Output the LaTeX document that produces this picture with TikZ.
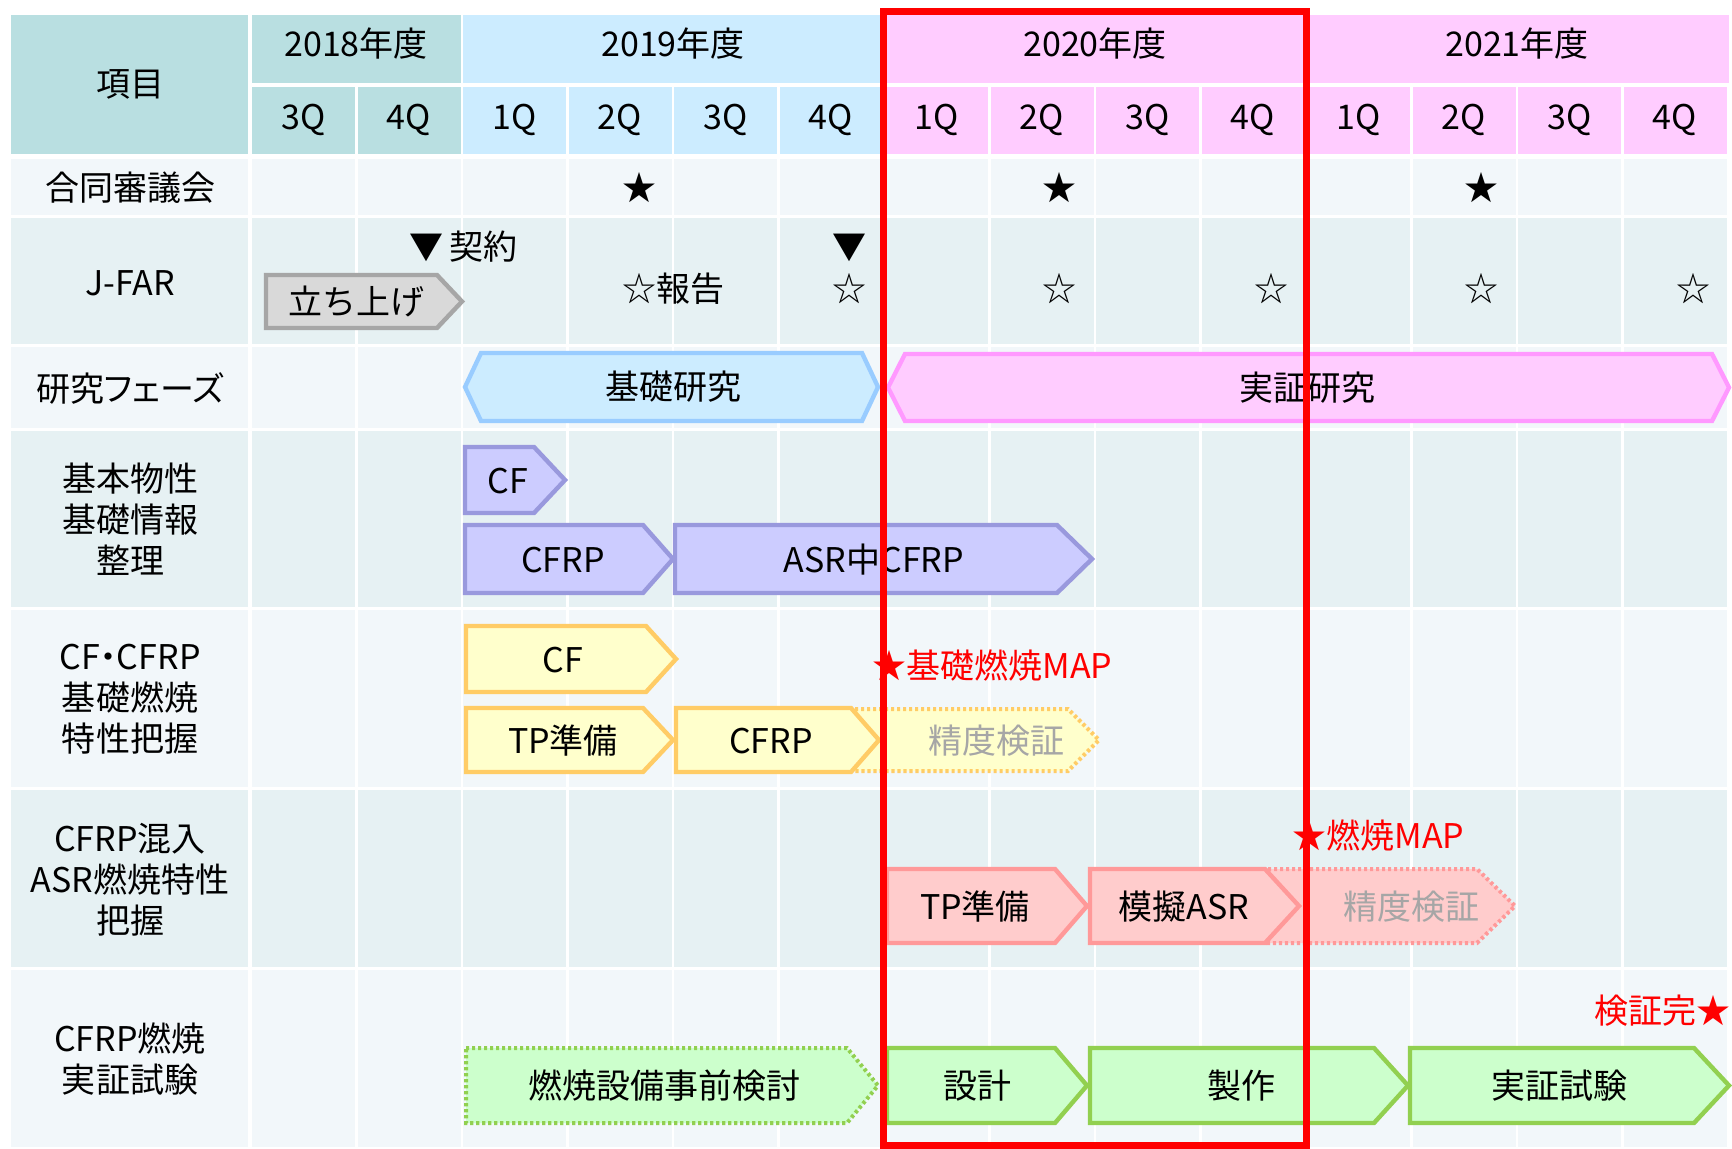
\documentclass[tikz,border=0pt]{standalone}
\usepackage{fontspec}
\setmainfont{Noto Sans CJK JP}
\newfontfamily\jpprop[RawFeature=+palt]{Noto Sans CJK JP}
\definecolor{hdrteal}{RGB}{185,223,225}
\definecolor{hdrblue}{RGB}{204,236,255}
\definecolor{hdrpink}{RGB}{255,204,255}
\definecolor{rowlight}{RGB}{242,247,250}
\definecolor{rowdark}{RGB}{230,241,243}
\definecolor{purfill}{RGB}{204,204,255}
\definecolor{purline}{RGB}{153,153,221}
\definecolor{yelfill}{RGB}{255,255,204}
\definecolor{yelline}{RGB}{255,204,102}
\definecolor{redfill}{RGB}{255,204,204}
\definecolor{redline}{RGB}{255,153,153}
\definecolor{grnfill}{RGB}{204,255,204}
\definecolor{grnline}{RGB}{146,208,80}
\definecolor{bluline}{RGB}{153,204,255}
\definecolor{pinkline}{RGB}{255,153,255}
\definecolor{grayfill}{RGB}{217,217,217}
\definecolor{grayline}{RGB}{166,166,166}
\definecolor{txtgray}{RGB}{166,166,166}
\definecolor{boxred}{RGB}{255,0,0}
\tikzset{
  lbl/.style={font=\fontsize{17}{20.5}\selectfont, inner sep=0pt, text height=15pt, text depth=2pt, anchor=center},
  mlbl/.style={font=\fontsize{17}{20.5}\selectfont, inner sep=0pt, align=center, anchor=center},
  barpur/.style={fill=purfill, draw=purline, line width=2.2pt},
  baryel/.style={fill=yelfill, draw=yelline, line width=2.2pt},
  barred/.style={fill=redfill, draw=redline, line width=2.2pt},
  bargrn/.style={fill=grnfill, draw=grnline, line width=2.2pt},
  bargray/.style={fill=grayfill, draw=grayline, line width=2.2pt},
  dotyel/.style={fill=yelfill, draw=yelline, line width=2pt, dash pattern=on 1.6pt off 1.4pt},
  dotred/.style={fill=redfill, draw=redline, line width=2pt, dash pattern=on 1.6pt off 1.4pt},
  dotgrn/.style={fill=grnfill, draw=grnline, line width=2pt, dash pattern=on 1.6pt off 1.4pt},
  hexblue/.style={fill=hdrblue, draw=bluline, line width=2.2pt},
  hexpink/.style={fill=hdrpink, draw=pinkline, line width=2.2pt},
  redbox/.style={draw=boxred, line width=3.5pt},
}
% style, name, x1, x2, y1, y2, tip, text x, text
\newcommand\chev[9]{%
  \draw[#1] (#3,#5) -- ({#4-#7},#5) -- (#4,{(#5+#6)/2}) -- ({#4-#7},#6) -- (#3,#6) -- cycle;
  \node[lbl] (#2) at (#8,{(#5+#6)/2}) {#9};
}
\newcommand\hexa[9]{%
  \draw[#1] (#3,{(#5+#6)/2}) -- ({#3+#7},#5) -- ({#4-#7},#5) -- (#4,{(#5+#6)/2}) -- ({#4-#7},#6) -- ({#3+#7},#6) -- cycle;
  \node[lbl] (#2) at (#8,{(#5+#6)/2}) {#9};
}
\begin{document}
\begin{tikzpicture}[x=0.5pt,y=-0.5pt]
\useasboundingbox[fill=white] (0,0) rectangle (1732,1149);
% header
\fill[hdrteal] (11,15) rectangle (248,154);
\fill[hdrteal] (252,15) rectangle (460.5,83);
\fill[hdrblue] (463,15) rectangle (882,83);
\fill[hdrpink] (885,15) rectangle (1304.5,83);
\fill[hdrpink] (1307,15) rectangle (1729,83);
\foreach \k/\c in {0/hdrteal,1/hdrteal,2/hdrblue,3/hdrblue,4/hdrblue,5/hdrblue,6/hdrpink,7/hdrpink,8/hdrpink,9/hdrpink,10/hdrpink,11/hdrpink,12/hdrpink,13/hdrpink}
  \fill[\c] ({252+105.5*\k},87) rectangle ({252+105.5*\k+103},154);
% body rows
\foreach \ya/\yb/\c in {159/215/rowlight,218/344/rowdark,347/428/rowlight,431/607/rowdark,610/787/rowlight,790/967/rowdark,970/1147/rowlight}{
  \fill[\c] (11,\ya) rectangle (248,\yb);
  \foreach \k in {0,...,13}
    \fill[\c] ({252+105.5*\k},\ya) rectangle ({252+105.5*\k+103},\yb);
}
% header texts
\node[lbl] (item) at (130,84) {項目};
\node[lbl] (y2018) at (356,44) {2018年度};
\node[lbl] (y2019) at (673,44) {2019年度};
\node[lbl] (y2020) at (1095,44) {2020年度};
\node[lbl] (y2021) at (1517,44) {2021年度};
\foreach \k/\q in {0/3Q,1/4Q,2/1Q,3/2Q,4/3Q,5/4Q,6/1Q,7/2Q,8/3Q,9/4Q,10/1Q,11/2Q,12/3Q,13/4Q}
  \node[lbl] (q\k) at ({252+105.5*\k+51.5},117) {\q};
% row labels
\node[mlbl] (r1) at (130,188) {合同審議会};
\node[mlbl] (r2) at (130,283) {J-FAR};
\node[mlbl] (r3) at (130,388) {\jpprop 研究フェーズ};
\node[mlbl] (r4) at (130,519) {基本物性\\基礎情報\\整理};
\node[mlbl] (r5) at (130,699) {\jpprop CF・CFRP\\基礎燃焼\\特性把握};
\node[mlbl] (r6) at (130,880) {CFRP混入\\ASR燃焼特性\\把握};
\node[mlbl] (r7) at (130,1059) {CFRP燃焼\\実証試験};
% meetings
\node[lbl] (m1) at (639,188) {★};
\node[lbl] (m2) at (1059,188) {★};
\node[lbl] (m3) at (1481,188) {★};
% J-FAR
\chev{bargray}{setup}{266}{462}{275}{328}{25}{356}{立ち上げ}
\node[lbl, anchor=east] (contract) at (518,247) {▼\hspace{3pt}契約};
\node[lbl, anchor=east] (rep1) at (725,289) {☆報告};
\node[lbl] (tri2) at (849.5,247) {▼};
\node[lbl] (rep2) at (849.5,289) {☆};
\node[lbl] (rep3) at (1059,289) {☆};
\node[lbl] (rep4) at (1271,289) {☆};
\node[lbl] (rep5) at (1481,289) {☆};
\node[lbl] (rep6) at (1693,289) {☆};
% phases
\hexa{hexblue}{basic}{465}{878}{353}{421}{16}{673}{基礎研究}
\hexa{hexpink}{demoph}{888}{1729}{354}{421}{17}{1307}{実証研究}
% basic properties
\chev{barpur}{cf1}{465}{565}{447}{513}{31}{508}{CF}
\chev{barpur}{asr}{675}{1092}{525}{593}{35}{874}{ASR中CFRP}
\chev{barpur}{cfrp1}{465}{673}{525}{593}{30}{563}{CFRP}
% CF/CFRP combustion
\chev{baryel}{cf2}{466}{676}{626}{692}{30}{563}{CF}
\chev{dotyel}{acc1}{855}{1099}{709}{771}{31}{996}{\color{txtgray}精度検証}
\chev{baryel}{tp1}{466}{673}{708}{772}{30}{563}{TP準備}
\chev{baryel}{cfrp2}{676}{879}{708}{772}{28}{771}{CFRP}
\node[lbl, text=boxred, anchor=west] (map1) at (872,665) {★基礎燃焼MAP};
% ASR
\chev{dotred}{acc2}{1268}{1515}{869}{943}{38}{1411}{\color{txtgray}精度検証}
\chev{barred}{tp2}{887}{1087}{869}{943}{32}{975}{TP準備}
\chev{barred}{mock}{1090}{1299}{869}{943}{34}{1184}{模擬ASR}
\node[lbl, text=boxred, anchor=west] (map2) at (1292,835) {★燃焼MAP};
% demonstration
\chev{dotgrn}{pre}{466}{878}{1048}{1123}{31}{664}{燃焼設備事前検討}
\chev{bargrn}{design}{887}{1087}{1048}{1123}{32}{977}{設計}
\chev{bargrn}{make}{1090}{1408}{1048}{1123}{34}{1241}{製作}
\chev{bargrn}{demo}{1410}{1729}{1048}{1123}{35}{1559}{実証試験}
\node[lbl, text=boxred, anchor=east] (done) at (1731,1010) {検証完★};
% red frame
\coordinate (fa) at (883,11.5);
\coordinate (fb) at (1306,1145);
\draw[redbox] (fa) rectangle (fb);
\end{tikzpicture}
\end{document}
